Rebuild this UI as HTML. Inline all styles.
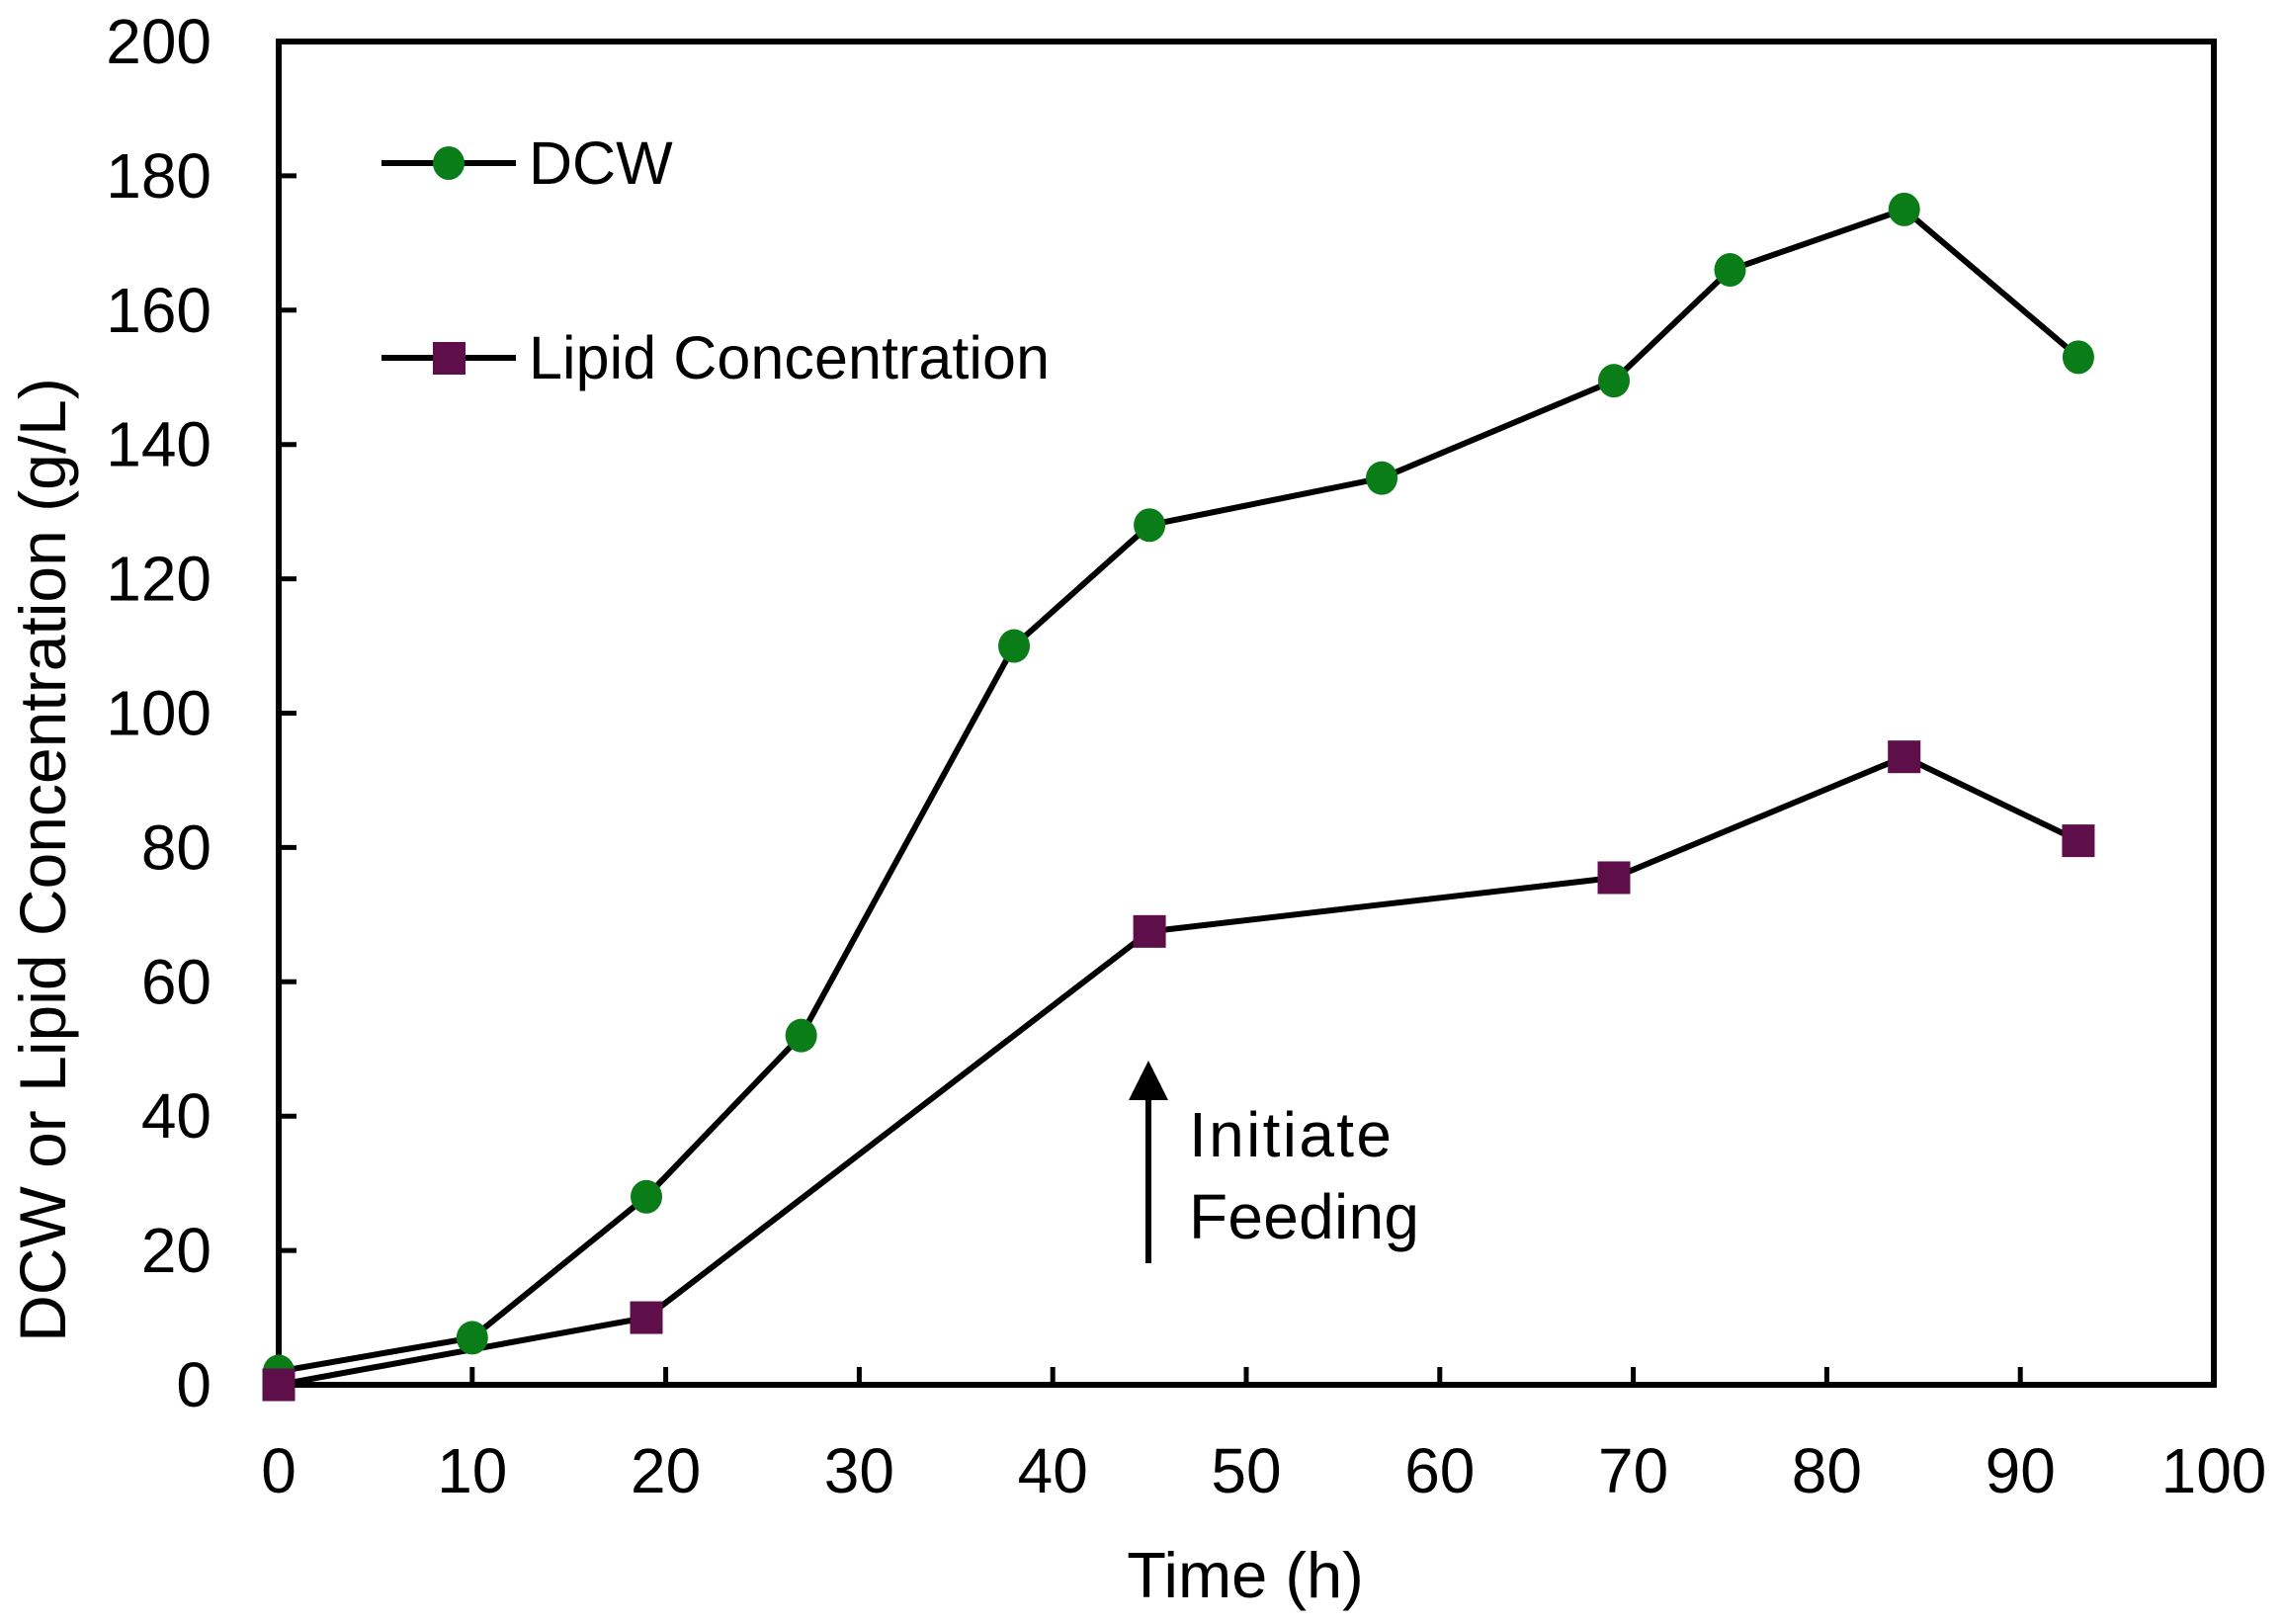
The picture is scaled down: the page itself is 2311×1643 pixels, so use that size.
<!DOCTYPE html>
<html><head><meta charset="utf-8"><style>
html,body{margin:0;padding:0;background:#fff;}
svg{display:block;font-family:"Liberation Sans",sans-serif;}
</style></head><body>
<svg id="chart" width="2311" height="1643" viewBox="0 0 2311 1643">
<g id="axes"></g>
<g id="series"></g>
<g>
  <line x1="386" y1="165" x2="522" y2="165" stroke="#000" stroke-width="6"/>
  <ellipse cx="454" cy="165" rx="16" ry="17" fill="#0a7d18"/>
  <text x="535" y="186" font-size="61">DCW</text>
  <line x1="386" y1="362" x2="522" y2="362" stroke="#000" stroke-width="6"/>
  <rect x="438" y="346" width="33" height="33" fill="#5e0f4a"/>
  <text x="535" y="383" font-size="61" textLength="527">Lipid Concentration</text>
</g>
<g>
  <line x1="1162" y1="1278" x2="1162" y2="1105" stroke="#000" stroke-width="6"/>
  <polygon points="1162,1073 1142,1113 1182,1113" fill="#000"/>
  <text x="1203" y="1170" font-size="64" textLength="205">Initiate</text>
  <text x="1203" y="1253" font-size="64" textLength="233">Feeding</text>
</g>
</svg>
<script>
const timeDCW = [0,10,19,27,38,45,57,69,75,84,93];
const dcwValues = [2,7,28,52,110,128,135,149.5,166,175,153];
const timeLipid = [0,19,45,69,84,93];
const lipidValues = [0,10,67.5,75.5,93.5,81];
const xTicks = [0,10,20,30,40,50,60,70,80,90,100];
const yTicks = [0,20,40,60,80,100,120,140,160,180,200];

const L=282,R=2240,T=42,B=1401;
const xs=v=>L+(v-0)/100*(R-L);
const ys=v=>B-(v-0)/200*(B-T);
const NS='http://www.w3.org/2000/svg';
function mk(tag,attrs,parent){const e=document.createElementNS(NS,tag);for(const k in attrs)e.setAttribute(k,attrs[k]);parent.appendChild(e);return e;}
const axes=document.getElementById('axes');
const series=document.getElementById('series');

let frame=mk('rect',{x:L,y:T,width:R-L,height:B-T,fill:'none',stroke:'#000','stroke-width':6},axes);



xTicks.forEach(v=>{
  const t=mk('line',{x1:xs(v),x2:xs(v),y1:B,y2:B-18,stroke:'#000','stroke-width':5},axes);
  
  
  const lb=mk('text',{x:xs(v),y:1510,'font-size':64,'text-anchor':'middle'},axes);
  lb.textContent=v;
  
  
});
yTicks.forEach(v=>{
  const t=mk('line',{x1:L,x2:L+18,y1:ys(v),y2:ys(v),stroke:'#000','stroke-width':5},axes);
  
  
  const lb=mk('text',{x:214,y:ys(v)+22,'font-size':64,'text-anchor':'end'},axes);
  lb.textContent=v;
  
  
});
const xt=mk('text',{x:1260,y:1616,'font-size':65,'text-anchor':'middle'},axes);
xt.textContent='Time (h)';


const yt=mk('text',{x:0,y:0,'font-size':66,'text-anchor':'middle',transform:'translate(66,870) rotate(-90)'},axes);
yt.textContent='DCW or Lipid Concentration (g/L)';



const dl=mk('polyline',{points:timeDCW.map((t,i)=>xs(t)+','+ys(dcwValues[i])).join(' '),fill:'none',stroke:'#000','stroke-width':6,'stroke-linejoin':'round'},series);


const ll=mk('polyline',{points:timeLipid.map((t,i)=>xs(t)+','+ys(lipidValues[i])).join(' '),fill:'none',stroke:'#000','stroke-width':6,'stroke-linejoin':'round'},series);


timeDCW.forEach((t,i)=>{
  const c=mk('ellipse',{cx:xs(t),cy:ys(dcwValues[i]),rx:16,ry:17,fill:'#0a7d18'},series);
  
  
});
timeLipid.forEach((t,i)=>{
  const r=mk('rect',{x:xs(t)-16.5,y:ys(lipidValues[i])-16.5,width:33,height:33,fill:'#5e0f4a'},series);
  
  
});
</script>
</body></html>
